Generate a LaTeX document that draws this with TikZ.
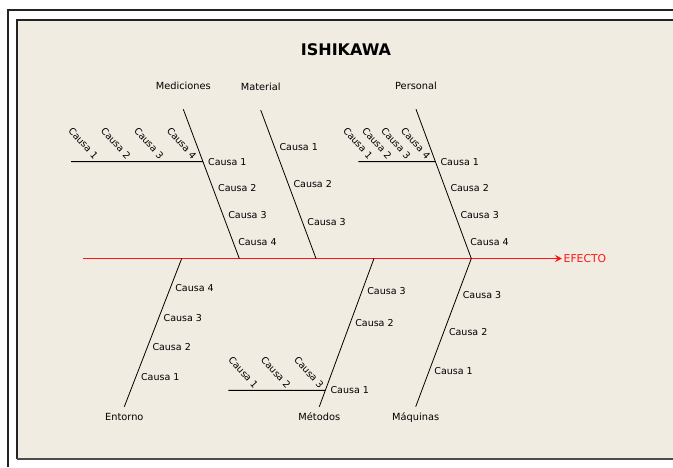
\documentclass[tikz,border=0pt]{standalone}
\usepackage{fontspec}
\setmainfont{DejaVu Sans}
\usetikzlibrary{arrows.meta,positioning}

\definecolor{panel}{RGB}{240,236,226}
\definecolor{frame}{RGB}{35,35,35}
\definecolor{efecto}{RGB}{255,20,20}

\begin{document}
\begin{tikzpicture}
    [x=1pt, y=-1pt,
    bone/.style={line width=0.8pt, black},
    twig/.style={line width=1pt, black},
    causa/.style={font=\fontsize{9.5}{10}\selectfont, anchor=west, inner sep=0pt, xshift=5pt},
    causarot/.style={font=\fontsize{9.5}{10}\selectfont, rotate=-48, inner sep=0pt},
    head/.style={font=\fontsize{9.8}{10}\selectfont, inner sep=0pt}]
        \useasboundingbox (0,0) rectangle (673,467);
        % frames
        \fill[white] (0,0) rectangle (673,467);
        \draw[frame, line width=1.5pt] (8,467) -- (8,10) -- (673,10);
        \fill[panel] (17,20) rectangle (673,459);
        \draw[frame, line width=1.2pt] (17,459) -- (17,20) -- (673,20);
        \draw[gray!60!black, line width=2pt] (17,459) -- (673,459);

        \node[font=\fontsize{16}{18}\selectfont\bfseries] (title) at (346,50) {ISHIKAWA};

        % spine
        \coordinate (S0) at (83,258.5);
        \coordinate (S1) at (562,258.5);
        \draw[efecto, line width=1pt, -{Stealth[length=7pt, width=7pt, inset=2.5pt]}] (S0) -- (S1);
        \node[efecto, font=\fontsize{10.8}{11}\selectfont, anchor=west, inner sep=1.5pt] (E) at (S1) {EFECTO};

        % Mediciones
        \coordinate (M0) at (183.3,109.3);
        \coordinate (M1) at (239.3,258.5);
        \node[head, above=19pt of M0] (M) {Mediciones};
        \draw[bone] (M0) -- (M1);
        \path (M0) -- (M1)
            coordinate[pos=.351] (Mj)
            node[causa, pos=.351] (M1a) {Causa 1}
            node[causa, pos=.530] (M2a) {Causa 2}
            node[causa, pos=.711] (M3a) {Causa 3}
            node[causa, pos=.889] (M4a) {Causa 4};
        \coordinate (Ms) at (71,161.7);
        \draw[twig] (Ms) -- (Mj);
        \node[causarot] (M1b) at (83.3,143) {Causa 1};
        \node[causarot] (M2b) at (115.8,143) {Causa 2};
        \node[causarot] (M3b) at (149,143) {Causa 3};
        \node[causarot] (M4b) at (181.7,143) {Causa 4};

        % Material
        \coordinate (T0) at (260.7,110);
        \coordinate (T1) at (316,258.5);
        \node[head, above=19pt of T0] (T) {Material};
        \draw[bone] (T0) -- (T1);
        \path (T0) -- (T1)
            node[causa, pos=.247] (T1a) {Causa 1}
            node[causa, pos=.500] (T2a) {Causa 2}
            node[causa, pos=.752] (T3a) {Causa 3};

        % Personal
        \coordinate (P0) at (416,109.3);
        \coordinate (P1) at (471.3,258.5);
        \node[head, above=19pt of P0] (P) {Personal};
        \draw[bone] (P0) -- (P1);
        \path (P0) -- (P1)
            coordinate[pos=.351] (Pj)
            node[causa, pos=.351] (P1a) {Causa 1}
            node[causa, pos=.530] (P2a) {Causa 2}
            node[causa, pos=.711] (P3a) {Causa 3}
            node[causa, pos=.889] (P4a) {Causa 4};
        \coordinate (Ps) at (358.3,161.7);
        \draw[twig] (Ps) -- (Pj);
        \node[causarot] (P1b) at (358,143) {Causa 1};
        \node[causarot] (P2b) at (377,143) {Causa 2};
        \node[causarot] (P3b) at (396,143) {Causa 3};
        \node[causarot] (P4b) at (415.7,143) {Causa 4};

        % Entorno
        \coordinate (N0) at (181.7,258.5);
        \coordinate (N1) at (124.3,406.7);
        \node[head, below=6pt of N1] (N) {Entorno};
        \draw[bone] (N0) -- (N1);
        \path (N0) -- (N1)
            node[causa, pos=.201] (N4a) {Causa 4}
            node[causa, pos=.404] (N3a) {Causa 3}
            node[causa, pos=.599] (N2a) {Causa 2}
            node[causa, pos=.798] (N1a) {Causa 1};

        % Metodos
        \coordinate (D0) at (374,258.5);
        \coordinate (D1) at (319.3,406.7);
        \node[head, below=6pt of D1] (D) {Métodos};
        \draw[bone] (D0) -- (D1);
        \path (D0) -- (D1)
            node[causa, pos=.217] (D3a) {Causa 3}
            node[causa, pos=.437] (D2a) {Causa 2}
            coordinate[pos=.889] (Dj)
            node[causa, pos=.889] (D1a) {Causa 1};
        \coordinate (Ds) at (228.3,390.3);
        \draw[twig] (Ds) -- (Dj);
        \node[causarot] (D1b) at (243.3,372.5) {Causa 1};
        \node[causarot] (D2b) at (275.8,372.5) {Causa 2};
        \node[causarot] (D3b) at (309,372.5) {Causa 3};

        % Maquinas
        \coordinate (Q0) at (471.3,258.5);
        \coordinate (Q1) at (415.7,406.7);
        \node[head, below=6pt of Q1] (Q) {Máquinas};
        \draw[bone] (Q0) -- (Q1);
        \path (Q0) -- (Q1)
            node[causa, pos=.246] (Q3a) {Causa 3}
            node[causa, pos=.494] (Q2a) {Causa 2}
            node[causa, pos=.757] (Q1a) {Causa 1};
    \end{tikzpicture}
\end{document}
